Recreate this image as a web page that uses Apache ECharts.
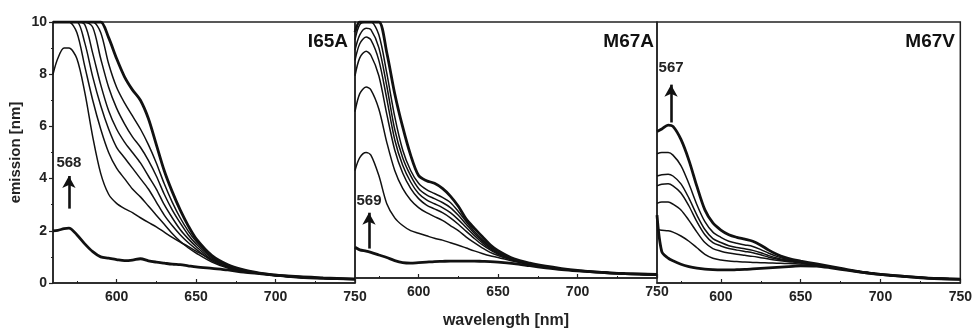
<!DOCTYPE html>
<html>
<head>
<meta charset="utf-8">
<script src="https://cdn.jsdelivr.net/npm/echarts@6/dist/echarts.min.js"></script>
<style>
  html, body { margin: 0; padding: 0; background: #fff; }
  #chart { width: 975px; height: 334px; }
</style>
</head>
<body>
<div id="chart"></div>
<script>
// wavelength sample points shared by all panels
const wavelength = [560, 563, 567, 570, 575, 580, 585, 590, 595, 600, 605, 610, 615, 620, 625, 630, 635, 640, 645, 650, 660, 670, 680, 690, 700, 715, 730, 750];
const xLabels = [600, 650, 700, 750];
const xMinor = [575, 625, 675, 725];

// I65A: first and last curve are drawn thick
const i65aCurves = [
  [2.0, 2.02, 2.08, 2.1, 1.85, 1.5, 1.2, 1.0, 0.95, 0.9, 0.86, 0.88, 0.93, 0.85, 0.8, 0.76, 0.72, 0.7, 0.66, 0.62, 0.56, 0.5, 0.42, 0.36, 0.3, 0.24, 0.2, 0.15],
  [8.0, 8.6, 9.0, 9.0, 8.6, 7.3, 5.6, 4.2, 3.4, 3.05, 2.85, 2.7, 2.5, 2.32, 2.15, 1.95, 1.75, 1.57, 1.4, 1.22, 0.9, 0.68, 0.5, 0.38, 0.3, 0.23, 0.18, 0.14],
  [10, 10, 10, 10, 9.6, 8.3, 7.0, 5.9, 5.0, 4.4, 4.0, 3.6, 3.3, 2.95, 2.6, 2.25, 1.9, 1.6, 1.35, 1.15, 0.8, 0.57, 0.44, 0.35, 0.28, 0.22, 0.18, 0.14],
  [10, 10, 10, 10, 10, 9.2, 7.9, 6.8, 5.9, 5.2, 4.8, 4.4, 4.0, 3.6, 3.1, 2.6, 2.2, 1.85, 1.55, 1.3, 0.85, 0.6, 0.45, 0.36, 0.29, 0.22, 0.18, 0.14],
  [10, 10, 10, 10, 10, 9.9, 8.8, 7.6, 6.6, 5.9, 5.4, 5.0, 4.6, 4.1, 3.6, 3.0, 2.5, 2.05, 1.7, 1.4, 0.9, 0.62, 0.46, 0.36, 0.29, 0.22, 0.18, 0.14],
  [10, 10, 10, 10, 10, 10, 9.8, 8.6, 7.5, 6.7, 6.1, 5.6, 5.2, 4.7, 4.1, 3.4, 2.8, 2.3, 1.85, 1.5, 0.95, 0.65, 0.47, 0.37, 0.3, 0.22, 0.18, 0.14],
  [10, 10, 10, 10, 10, 10, 10, 9.6, 8.4, 7.5, 6.9, 6.4, 5.9, 5.3, 4.6, 3.8, 3.1, 2.5, 2.0, 1.6, 1.0, 0.68, 0.48, 0.37, 0.3, 0.22, 0.18, 0.15],
  [10, 10, 10, 10, 10, 10, 10, 10, 9.4, 8.6, 7.9, 7.4, 7.0, 6.3, 5.3, 4.3, 3.5, 2.8, 2.2, 1.7, 1.05, 0.7, 0.5, 0.38, 0.3, 0.22, 0.18, 0.15]
];

const m67aCurves = [
  [1.2, 1.1, 1.05, 1.0, 0.9, 0.8, 0.68, 0.6, 0.58, 0.6, 0.62, 0.64, 0.65, 0.66, 0.66, 0.66, 0.66, 0.65, 0.64, 0.62, 0.56, 0.48, 0.4, 0.33, 0.28, 0.22, 0.17, 0.14],
  [4.2, 4.7, 4.9, 4.8, 4.0, 2.9, 2.35, 2.05, 1.85, 1.75, 1.65, 1.55, 1.48, 1.38, 1.28, 1.17, 1.06, 0.96, 0.87, 0.8, 0.65, 0.52, 0.42, 0.35, 0.28, 0.22, 0.17, 0.13],
  [6.5, 7.2, 7.46, 7.35, 6.6, 5.3, 4.2, 3.5, 3.05, 2.75, 2.55, 2.4, 2.25, 2.05, 1.85, 1.6, 1.38, 1.18, 1.0, 0.88, 0.68, 0.53, 0.43, 0.35, 0.28, 0.22, 0.17, 0.13],
  [7.9, 8.6, 8.86, 8.7, 7.9, 6.4, 5.0, 4.1, 3.5, 3.1, 2.85, 2.7, 2.55, 2.35, 2.1, 1.82, 1.55, 1.3, 1.1, 0.93, 0.7, 0.54, 0.43, 0.35, 0.28, 0.22, 0.17, 0.13],
  [8.5, 9.15, 9.41, 9.3, 8.5, 7.0, 5.4, 4.4, 3.75, 3.3, 3.05, 2.9, 2.75, 2.55, 2.28, 1.97, 1.66, 1.38, 1.15, 0.96, 0.7, 0.54, 0.43, 0.35, 0.28, 0.22, 0.17, 0.13],
  [8.9, 9.5, 9.76, 9.7, 9.0, 7.5, 5.8, 4.7, 4.0, 3.5, 3.25, 3.1, 2.95, 2.75, 2.45, 2.1, 1.75, 1.45, 1.2, 0.98, 0.71, 0.55, 0.43, 0.35, 0.28, 0.22, 0.17, 0.13],
  [9.3, 9.9, 10, 10, 9.5, 8.0, 6.3, 5.0, 4.2, 3.7, 3.45, 3.3, 3.15, 2.95, 2.6, 2.2, 1.83, 1.5, 1.22, 1.0, 0.72, 0.56, 0.44, 0.36, 0.29, 0.22, 0.17, 0.13],
  [9.6, 10, 10, 10, 10, 8.8, 7.2, 5.9, 4.8, 4.0, 3.8, 3.7, 3.5, 3.2, 2.8, 2.3, 1.95, 1.62, 1.3, 1.07, 0.75, 0.58, 0.46, 0.37, 0.3, 0.22, 0.17, 0.13]
];

const m67vCurves = [
  [2.6, 1.2, 0.95, 0.85, 0.72, 0.63, 0.57, 0.53, 0.51, 0.5, 0.5, 0.51, 0.52, 0.54, 0.56, 0.58, 0.6, 0.62, 0.64, 0.66, 0.65, 0.57, 0.48, 0.4, 0.33, 0.25, 0.19, 0.15],
  [2.05, 2.02, 2.0, 1.95, 1.8, 1.6, 1.35, 1.1, 0.95, 0.88, 0.84, 0.82, 0.8, 0.79, 0.78, 0.77, 0.76, 0.75, 0.74, 0.73, 0.69, 0.6, 0.5, 0.41, 0.33, 0.25, 0.19, 0.15],
  [3.05, 3.1, 3.1, 3.02, 2.8, 2.4, 1.95, 1.55, 1.32, 1.22, 1.15, 1.1, 1.06, 1.02, 0.97, 0.92, 0.87, 0.83, 0.8, 0.77, 0.7, 0.6, 0.5, 0.41, 0.33, 0.25, 0.19, 0.15],
  [3.72, 3.78, 3.8, 3.72, 3.45, 2.95, 2.35, 1.85, 1.55, 1.42, 1.32, 1.26, 1.21, 1.16, 1.08, 0.99, 0.92, 0.86, 0.82, 0.79, 0.7, 0.6, 0.5, 0.41, 0.33, 0.25, 0.19, 0.15],
  [4.1, 4.15, 4.17, 4.1, 3.8, 3.25, 2.6, 2.05, 1.7, 1.55, 1.43, 1.36, 1.31, 1.25, 1.16, 1.05, 0.96, 0.89, 0.84, 0.8, 0.71, 0.6, 0.5, 0.41, 0.33, 0.25, 0.19, 0.15],
  [4.95, 5.0, 5.0, 4.9, 4.5, 3.8, 3.0, 2.35, 1.95, 1.75, 1.6, 1.52, 1.46, 1.4, 1.28, 1.14, 1.02, 0.93, 0.87, 0.82, 0.72, 0.61, 0.5, 0.41, 0.33, 0.25, 0.19, 0.15],
  [5.8, 5.9, 6.05, 6.0, 5.5, 4.7, 3.7, 2.8, 2.3, 2.03, 1.85, 1.75, 1.68, 1.6, 1.45, 1.26, 1.1, 0.98, 0.9, 0.84, 0.73, 0.62, 0.5, 0.4, 0.33, 0.25, 0.18, 0.14]
];

const panelNames = ['I65A', 'M67A', 'M67V'];
const panelCurves = [i65aCurves, m67aCurves, m67vCurves];
// peak annotation: label, arrow x, arrow from/to (y), label y
const peakLabels = ['568', '569', '567'];
const peakArrowX = [570, 568.8, 568.8];
const peakArrowFrom = [2.85, 1.15, 6.15];
const peakArrowTo = [4.1, 2.55, 7.6];
const peakLabelY = [4.6, 3.0, 8.25];

const INK = '#111';
const FONT = 'Liberation Sans';

const chart = echarts.init(document.getElementById('chart'));

const gridLefts = [53, 355, 657];
const gridWidths = [302, 302, 304];

const grid = gridLefts.map((left, i) => ({
  left: left, top: 22, width: gridWidths[i], height: 261,
  show: true, borderColor: '#222', borderWidth: 1.5, backgroundColor: 'transparent'
}));

const xAxis = [];
const yAxis = [];
grid.forEach((g, i) => {
  xAxis.push({
    type: 'value', gridIndex: i, min: 560, max: 750,
    name: i === 1 ? 'wavelength [nm]' : '',
    nameLocation: 'middle', nameGap: 35,
    nameTextStyle: { fontFamily: FONT, fontWeight: 'bold', fontSize: 16, color: '#222' },
    axisLine: { show: true, lineStyle: { color: '#222', width: 1.5 } },
    axisTick: { show: true, inside: true, length: 4, customValues: xLabels, lineStyle: { color: '#222', width: 1.2 } },
    axisLabel: { customValues: xLabels, margin: 7, fontFamily: FONT, fontWeight: 'bold', fontSize: 14, color: '#222' },
    splitLine: { show: false }
  });
  // minor ticks only
  xAxis.push({
    type: 'value', gridIndex: i, min: 560, max: 750, position: 'bottom',
    axisLine: { show: false },
    axisTick: { show: true, inside: true, length: 2, customValues: xMinor, lineStyle: { color: '#222', width: 1 } },
    axisLabel: { show: false },
    splitLine: { show: false }
  });
  yAxis.push({
    type: 'value', gridIndex: i, min: 0, max: 10, interval: 2,
    name: i === 0 ? 'emission [nm]' : '',
    nameLocation: 'middle', nameGap: 30,
    nameTextStyle: { fontFamily: FONT, fontWeight: 'bold', fontSize: 15, color: '#222' },
    axisLine: { show: i === 0, lineStyle: { color: '#222', width: 1.5 } },
    axisTick: { show: i === 0, length: 4, lineStyle: { color: '#222', width: 1.2 } },
    minorTick: { show: i === 0, splitNumber: 2, length: 2, lineStyle: { color: '#222' } },
    axisLabel: { show: i === 0, margin: 6, fontFamily: FONT, fontWeight: 'bold', fontSize: 14, color: '#222' },
    splitLine: { show: false }
  });
});

const series = [];
panelCurves.forEach((curves, p) => {
  curves.forEach((vals, k) => {
    const thick = k === 0 || k === curves.length - 1;
    const s = {
      type: 'line',
      xAxisIndex: p * 2, yAxisIndex: p,
      data: wavelength.map((w, j) => [w, vals[j]]),
      showSymbol: false, smooth: 0.3, silent: true,
      lineStyle: { color: INK, width: thick ? 2.8 : 1.5 },
      z: thick ? 3 : 2
    };
    if (k === curves.length - 1) {
      s.markLine = {
        silent: true, symbol: ['none', 'arrow'], symbolSize: [10, 12],
        lineStyle: { color: INK, width: 2.6, type: 'solid' },
        label: { show: false },
        data: [[{ coord: [peakArrowX[p], peakArrowFrom[p]] }, { coord: [peakArrowX[p], peakArrowTo[p]] }]]
      };
      s.markPoint = {
        silent: true, symbol: 'circle', symbolSize: 1,
        itemStyle: { color: 'transparent' },
        label: { show: true, position: 'inside', formatter: peakLabels[p], fontFamily: FONT, fontWeight: 'bold', fontSize: 15, color: '#222' },
        data: [{ coord: [peakArrowX[p], peakLabelY[p]] }]
      };
    }
    series.push(s);
  });
});

const panelRights = [627, 321, 20];
const title = panelNames.map((name, i) => ({
  text: name, right: panelRights[i], top: 32, padding: 0,
  textStyle: { fontFamily: FONT, fontWeight: 'bold', fontSize: 19, color: '#111' }
}));

chart.setOption({
  animation: false,
  backgroundColor: '#fff',
  title: title,
  grid: grid,
  xAxis: xAxis,
  yAxis: yAxis,
  series: series
});
</script>
</body>
</html>
